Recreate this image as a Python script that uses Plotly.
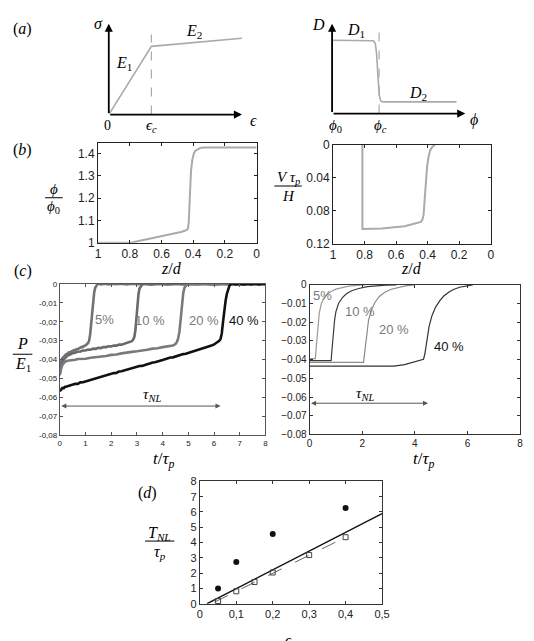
import plotly.graph_objects as go

W, H = 534, 641
SERIF = "Liberation Serif"
SANS = "Liberation Sans"

# ---------------- data ----------------
# (a) schematic constitutive laws (normalised units)
eps_pts = [0.0, 0.32, 1.0]
sig_pts = [0.0, 0.75, 0.84]
eps_c = 0.32
phi_pts = [0.0, 0.29, 0.31, 0.325, 0.335, 0.345, 0.355, 0.365, 0.38, 0.934]
D_pts = [0.815, 0.815, 0.81, 0.78, 0.65, 0.40, 0.20, 0.14, 0.13, 0.13]
phi_c = 0.353

# (b) profiles vs z/d
zb_phi = [1.0, 0.795, 0.477, 0.446, 0.434, 0.428, 0.424, 0.42, 0.414, 0.406, 0.396, 0.385, 0.37, 0.355, 0.33, 0.0]
phi_ratio = [1.0, 1.0, 1.048, 1.055, 1.062, 1.09, 1.16, 1.25, 1.32, 1.37, 1.40, 1.413, 1.421, 1.425, 1.427, 1.427]
zb_vel = [0.814, 0.814, 0.691, 0.546, 0.443, 0.432, 0.426, 0.421, 0.416, 0.411, 0.404, 0.395, 0.385, 0.371, 0.355]
vel = [0.0, 0.1022, 0.1014, 0.0987, 0.0936, 0.090, 0.085, 0.070, 0.054, 0.040, 0.027, 0.015, 0.007, 0.0025, 0.0]

# (c) left: experimental pressure (t/tau_p, P/E1)
C5 = [(0.00,-0.0452),(0.03,-0.0425),(0.06,-0.0407),(0.10,-0.0392),(0.15,-0.0383),(0.20,-0.0376),(0.25,-0.0371),
      (0.30,-0.0369),(0.35,-0.0362),(0.40,-0.0363),(0.45,-0.0356),(0.50,-0.0355),(0.55,-0.0350),(0.60,-0.0351),
      (0.65,-0.0344),(0.70,-0.0345),(0.75,-0.0339),(0.80,-0.0337),(0.85,-0.0333),(0.90,-0.0334),(0.95,-0.0327),
      (1.00,-0.0326),(1.05,-0.0319),(1.10,-0.0312),(1.14,-0.0300),(1.18,-0.0268),(1.22,-0.0210),(1.26,-0.0140),
      (1.30,-0.0080),(1.34,-0.0042),(1.38,-0.0020),(1.42,-0.0009),(1.46,-0.0003),(1.50,0.0),(1.60,-0.0003),
      (1.75,0.0),(1.90,-0.0003),(2.05,0.0),(2.20,-0.0002),(2.40,0.0),(2.60,-0.0003),(2.80,0.0),(3.00,-0.0002),
      (3.30,0.0),(3.60,-0.0003),(3.90,0.0),(4.20,-0.0002),(4.50,0.0),(4.80,-0.0003),(5.10,0.0),(5.40,-0.0002),
      (5.70,0.0),(6.00,-0.0003),(6.30,0.0),(6.60,-0.0002),(6.90,0.0),(7.20,-0.0003),(7.50,0.0),(7.80,-0.0002),(8.00,0.0)]
C10 = [(0.00,-0.0472),(0.03,-0.0450),(0.06,-0.0432),(0.10,-0.0414),(0.15,-0.0400),(0.20,-0.0391),(0.30,-0.0379),
       (0.40,-0.0373),(0.50,-0.0366),(0.60,-0.0364),(0.70,-0.0358),(0.80,-0.0357),(0.90,-0.0352),(1.00,-0.0352),
       (1.10,-0.0347),(1.20,-0.0348),(1.30,-0.0342),(1.40,-0.0343),(1.50,-0.0338),(1.60,-0.0339),(1.70,-0.0334),
       (1.80,-0.0334),(1.90,-0.0330),(2.00,-0.0331),(2.10,-0.0326),(2.20,-0.0326),(2.30,-0.0321),(2.40,-0.0321),
       (2.50,-0.0316),(2.60,-0.0315),(2.70,-0.0309),(2.80,-0.0303),(2.85,-0.0295),(2.90,-0.0280),(2.94,-0.0245),
       (2.98,-0.0180),(3.02,-0.0105),(3.06,-0.0055),(3.10,-0.0025),(3.15,-0.0010),(3.20,-0.0004),(3.30,0.0),
       (3.50,-0.0003),(3.80,0.0),(4.20,-0.0003),(4.60,0.0),(5.00,-0.0002),(5.50,0.0),(6.00,-0.0003),(6.50,0.0),
       (7.00,-0.0002),(7.50,0.0),(8.00,-0.0002)]
C20 = [(0.00,-0.0482),(0.03,-0.0458),(0.06,-0.0442),(0.10,-0.0428),(0.15,-0.0418),(0.20,-0.0411),(0.30,-0.0406),
       (0.40,-0.0405),(0.50,-0.0401),(0.60,-0.0401),(0.70,-0.0397),(0.80,-0.0397),(0.90,-0.0394),(1.00,-0.0395),
       (1.20,-0.0390),(1.40,-0.0388),(1.60,-0.0383),(1.80,-0.0381),(2.00,-0.0375),(2.20,-0.0373),(2.40,-0.0367),
       (2.60,-0.0365),(2.80,-0.0359),(3.00,-0.0356),(3.20,-0.0350),(3.40,-0.0348),(3.60,-0.0342),(3.80,-0.0340),
       (4.00,-0.0334),(4.20,-0.0331),(4.40,-0.0325),(4.50,-0.0318),(4.55,-0.0308),(4.60,-0.0290),(4.65,-0.0255),
       (4.70,-0.0190),(4.75,-0.0110),(4.80,-0.0050),(4.85,-0.0020),(4.90,-0.0008),(4.95,-0.0002),(5.00,0.0),
       (5.30,-0.0003),(5.60,0.0),(5.90,-0.0003),(6.20,0.0),(6.50,-0.0002),(6.80,0.0),(7.10,-0.0003),(7.40,0.0),
       (7.70,-0.0002),(8.00,0.0)]
C40 = [(0.00,-0.0566),(0.05,-0.0556),(0.10,-0.0549),(0.15,-0.0551),(0.20,-0.0544),(0.30,-0.0541),(0.40,-0.0536),
       (0.50,-0.0534),(0.60,-0.0527),(0.70,-0.0528),(0.80,-0.0520),(0.90,-0.0519),(1.00,-0.0515),(1.10,-0.0510),
       (1.20,-0.0509),(1.30,-0.0502),(1.40,-0.0500),(1.50,-0.0496),(1.60,-0.0490),(1.70,-0.0489),(1.80,-0.0482),
       (1.90,-0.0481),(2.00,-0.0475),(2.10,-0.0471),(2.20,-0.0470),(2.30,-0.0463),(2.40,-0.0461),(2.50,-0.0457),
       (2.60,-0.0452),(2.70,-0.0450),(2.80,-0.0446),(2.90,-0.0441),(3.00,-0.0440),(3.10,-0.0434),(3.20,-0.0433),
       (3.30,-0.0427),(3.40,-0.0424),(3.50,-0.0421),(3.60,-0.0415),(3.70,-0.0414),(3.80,-0.0408),(3.90,-0.0406),
       (4.00,-0.0402),(4.10,-0.0397),(4.20,-0.0396),(4.30,-0.0389),(4.40,-0.0388),(4.50,-0.0383),(4.60,-0.0379),
       (4.70,-0.0377),(4.80,-0.0371),(4.90,-0.0369),(5.00,-0.0365),(5.10,-0.0360),(5.20,-0.0358),(5.30,-0.0352),
       (5.40,-0.0350),(5.50,-0.0345),(5.60,-0.0340),(5.70,-0.0337),(5.80,-0.0330),(5.90,-0.0326),(6.00,-0.0320),
       (6.10,-0.0312),(6.20,-0.0301),(6.25,-0.0292),(6.30,-0.0262),(6.35,-0.0200),(6.40,-0.0138),(6.45,-0.0088),
       (6.50,-0.0052),(6.55,-0.0026),(6.60,-0.0010),(6.65,-0.0003),(6.70,0.0),(6.85,-0.0003),(7.00,0.0),
       (7.15,-0.0003),(7.30,0.0),(7.45,-0.0003),(7.60,0.0),(7.75,-0.0003),(7.90,0.0),(8.00,-0.0002)]

# (c) right: simulated pressure
R5 = [(0,-0.0395),(0.22,-0.0395),(0.25,-0.034),(0.29,-0.026),(0.33,-0.019),(0.37,-0.0150),(0.45,-0.0100),
      (0.53,-0.0075),(0.62,-0.0058),(0.8,-0.0037),(1.0,-0.0023),(1.25,-0.0013),(1.49,-0.0007),(1.8,-0.0003),(2.11,0.0)]
R10 = [(0,-0.0405),(0.82,-0.0405),(0.85,-0.035),(0.9,-0.026),(0.95,-0.019),(1.0,-0.0145),(1.1,-0.0100),
       (1.25,-0.0068),(1.4,-0.0048),(1.6,-0.0032),(1.87,-0.0020),(2.2,-0.0010),(2.5,-0.0005),(2.9,-0.0002),(3.3,0.0)]
R20 = [(0,-0.0415),(2.05,-0.0415),(2.08,-0.038),(2.11,-0.0340),(2.16,-0.027),(2.24,-0.0190),(2.35,-0.0135),
       (2.49,-0.0093),(2.65,-0.0062),(2.86,-0.0040),(3.1,-0.0024),(3.36,-0.0014),(3.65,-0.0006),(3.98,0.0)]
R40 = [(0,-0.0435),(3.2,-0.0435),(3.61,-0.0427),(3.98,-0.0414),(4.2,-0.0405),(4.33,-0.0398),(4.38,-0.0370),
       (4.42,-0.0330),(4.48,-0.0275),(4.54,-0.0224),(4.65,-0.0165),(4.79,-0.0119),(4.95,-0.0085),(5.10,-0.0060),
       (5.3,-0.0038),(5.47,-0.0025),(5.7,-0.0013),(5.97,-0.0005),(6.2,0.0)]

tnl_exp = 6.25
tnl_sim = 4.5

# (d) T_NL / tau_p vs eps_c
eps_exp = [0.05, 0.1, 0.2, 0.4]
T_exp = [1.0, 2.72, 4.56, 6.26]
eps_sim = [0.05, 0.1, 0.15, 0.2, 0.3, 0.4]
T_sim = [0.17, 0.81, 1.42, 2.04, 3.18, 4.35]
fit_eps = [0.0197, 0.5]
fit_T = [0.0, 5.9]
sim_fit_eps = [0.04, 0.4]
sim_fit_T = [0.1, 4.35]

# ---------------- helpers ----------------
def px(x):
    return x / W


def py(y):
    return 1 - y / H


fig = go.Figure()
ann = []
shapes = []


def txt(x, y, text, size=15, color="black", family=SERIF, xanchor="center", yanchor="middle"):
    ann.append(dict(xref="paper", yref="paper", x=px(x), y=py(y), text=text, showarrow=False,
                    font=dict(family=family, size=size, color=color), xanchor=xanchor, yanchor=yanchor))


def frac(xc, yn, yl, yd, num, den, half, size=16):
    txt(xc, yn, num, size=size)
    txt(xc, yd, den, size=size)
    shapes.append(dict(type="line", xref="paper", yref="paper", x0=px(xc - half), x1=px(xc + half),
                       y0=py(yl), y1=py(yl), line=dict(color="black", width=1)))


def hidden_axes(n, x0, x1, ytop, ybot):
    return ({"domain": [px(x0), px(x1)], "range": [0, 1], "visible": False, "anchor": f"y{n}"},
            {"domain": [py(ybot), py(ytop)], "range": [0, 1], "visible": False, "anchor": f"x{n}"})


def frame_axes(n, x0, x1, ytop, ybot, xr, yr, xt, xtt, yt, ytt, fs, lc="#222"):
    common = dict(showline=True, mirror="ticks", linecolor=lc, linewidth=1, ticks="inside", ticklen=3,
                  tickcolor=lc, showgrid=False, zeroline=False,
                  tickfont=dict(family=SANS, size=fs, color="#222"))
    xa = dict(domain=[px(x0), px(x1)], range=xr, tickvals=xt, ticktext=xtt, anchor=f"y{n}", **common)
    ya = dict(domain=[py(ybot), py(ytop)], range=yr, tickvals=yt, ticktext=ytt, anchor=f"x{n}", **common)
    return xa, ya


layout_axes = {}

# (a) left
xa, ya = hidden_axes(1, 108, 244, 17, 110)
layout_axes["xaxis"], layout_axes["yaxis"] = xa, ya
fig.add_trace(go.Scatter(x=eps_pts, y=sig_pts, mode="lines", line=dict(color="#aaaaaa", width=1.6),
                         xaxis="x", yaxis="y"))
fig.add_trace(go.Scatter(x=[eps_c, eps_c], y=[0, 0.88], mode="lines",
                         line=dict(color="#aaaaaa", width=1.2, dash="dash"), xaxis="x", yaxis="y"))
for (xx, yy) in [(1.0, 0.0), (0.0, 1.0)]:
    ann.append(dict(xref="x", yref="y", axref="x", ayref="y", x=xx, y=yy, ax=0, ay=0, text="",
                    showarrow=True, arrowhead=2, arrowsize=0.9, arrowwidth=1.8, arrowcolor="black", standoff=0))

# (a) right
xa, ya = hidden_axes(2, 336, 472, 17, 109)
layout_axes["xaxis2"], layout_axes["yaxis2"] = xa, ya
fig.add_trace(go.Scatter(x=phi_pts, y=D_pts, mode="lines", line=dict(color="#aaaaaa", width=1.6),
                         xaxis="x2", yaxis="y2"))
fig.add_trace(go.Scatter(x=[phi_c, phi_c], y=[0, 0.92], mode="lines",
                         line=dict(color="#aaaaaa", width=1.2, dash="dash"), xaxis="x2", yaxis="y2"))
for (xx, yy) in [(1.0, 0.0), (0.0, 1.0)]:
    ann.append(dict(xref="x2", yref="y2", axref="x2", ayref="y2", x=xx, y=yy, ax=0, ay=0, text="",
                    showarrow=True, arrowhead=2, arrowsize=0.9, arrowwidth=1.8, arrowcolor="black", standoff=0))

# (b) left
zt = [1, 0.8, 0.6, 0.4, 0.2, 0]
ztt = ["1", "0.8", "0.6", "0.4", "0.2", "0"]
xa, ya = frame_axes(3, 97, 259, 139, 241, [1, 0], [1, 1.447], zt, ztt,
                    [1, 1.1, 1.2, 1.3, 1.4], ["1", "1.1", "1.2", "1.3", "1.4"], 12)
layout_axes["xaxis3"], layout_axes["yaxis3"] = xa, ya
fig.add_trace(go.Scatter(x=zb_phi, y=phi_ratio, mode="lines", line=dict(color="#aaaaaa", width=2),
                         xaxis="x3", yaxis="y3", cliponaxis=False))

# (b) right
xa, ya = frame_axes(4, 337, 498, 141, 242, [1, 0], [0.12, 0], zt, ztt,
                    [0, 0.04, 0.08, 0.12], ["0", "0.04", "0.08", "0.12"], 12)
layout_axes["xaxis4"], layout_axes["yaxis4"] = xa, ya
fig.add_trace(go.Scatter(x=zb_vel, y=vel, mode="lines", line=dict(color="#aaaaaa", width=2),
                         xaxis="x4", yaxis="y4", cliponaxis=False))

# (c) left
yt = [0, -0.01, -0.02, -0.03, -0.04, -0.05, -0.06, -0.07, -0.08]
ytt_comma = ["0", "-0,01", "-0,02", "-0,03", "-0,04", "-0,05", "-0,06", "-0,07", "-0,08"]
xa, ya = frame_axes(5, 58, 268, 283, 438, [0, 8], [-0.08, 0], list(range(9)), [str(i) for i in range(9)],
                    yt, ytt_comma, 8, lc="#555")
layout_axes["xaxis5"], layout_axes["yaxis5"] = xa, ya
for data, col in [(C5, "#727272"), (C10, "#6a6a6a"), (C20, "#7a7a7a"), (C40, "#111111")]:
    tt, pp = zip(*data)
    fig.add_trace(go.Scatter(x=list(tt), y=list(pp), mode="lines", line=dict(color=col, width=2.6),
                             xaxis="x5", yaxis="y5"))
ann.append(dict(xref="x5", yref="y5", axref="x5", ayref="y5", x=tnl_exp, y=-0.0645, ax=0, ay=-0.0645,
                text="", showarrow=True, arrowhead=2, startarrowhead=2, arrowside="end+start",
                arrowsize=1, arrowwidth=1, arrowcolor="#555", standoff=0, startstandoff=0))

# (c) right
ytt_dot = ["0", "\u22120.01", "\u22120.02", "\u22120.03", "\u22120.04", "\u22120.05", "\u22120.06",
           "\u22120.07", "\u22120.08"]
xa, ya = frame_axes(6, 313, 528, 284, 437, [0, 8], [-0.08, 0], [0, 2, 4, 6, 8], ["0", "2", "4", "6", "8"],
                    yt, ytt_dot, 10, lc="#333")
layout_axes["xaxis6"], layout_axes["yaxis6"] = xa, ya
for data, col in [(R5, "#9a9a9a"), (R10, "#3a3a3a"), (R20, "#8a8a8a"), (R40, "#333333")]:
    tt, pp = zip(*data)
    fig.add_trace(go.Scatter(x=list(tt), y=list(pp), mode="lines", line=dict(color=col, width=1.2),
                             xaxis="x6", yaxis="y6"))
ann.append(dict(xref="x6", yref="y6", axref="x6", ayref="y6", x=tnl_sim, y=-0.0633, ax=0, ay=-0.0633,
                text="", showarrow=True, arrowhead=2, startarrowhead=2, arrowside="end+start",
                arrowsize=1, arrowwidth=1, arrowcolor="#555", standoff=0, startstandoff=0))

# (d)
xa, ya = frame_axes(7, 201, 387, 485, 610, [0, 0.5], [0, 8], [0, 0.1, 0.2, 0.3, 0.4, 0.5],
                    ["0", "0,1", "0,2", "0,3", "0,4", "0,5"], list(range(9)), [str(i) for i in range(9)], 11,
                    lc="#333")
layout_axes["xaxis7"], layout_axes["yaxis7"] = xa, ya
fig.add_trace(go.Scatter(x=fit_eps, y=fit_T, mode="lines", line=dict(color="#111", width=1.4),
                         xaxis="x7", yaxis="y7"))
fig.add_trace(go.Scatter(x=sim_fit_eps, y=sim_fit_T, mode="lines",
                         line=dict(color="#666", width=1, dash="longdash"), xaxis="x7", yaxis="y7"))
fig.add_trace(go.Scatter(x=eps_exp, y=T_exp, mode="markers",
                         marker=dict(symbol="circle", size=6, color="#111"), xaxis="x7", yaxis="y7"))
fig.add_trace(go.Scatter(x=eps_sim, y=T_sim, mode="markers",
                         marker=dict(symbol="square-open", size=5, color="#444", line=dict(width=1)),
                         xaxis="x7", yaxis="y7", cliponaxis=False))

# ---------------- text labels ----------------
txt(20, 22, "(<i>a</i>)", 16)
txt(20, 146, "(<i>b</i>)", 16)
txt(20, 270, "(<i>c</i>)", 16)
txt(148, 497, "(<i>d</i>)", 16)

txt(97, 17, "<i>σ</i>", 16)
txt(195, 25, "<i>E</i><sub>2</sub>", 16)
txt(124, 58, "<i>E</i><sub>1</sub>", 16)
txt(107, 121, "0", 14)
txt(152, 122, "<i>ϵ</i><sub><i>c</i></sub>", 15)
txt(256, 116, "<i>ϵ</i>", 16)

txt(322, 18, "<i>D</i>", 16)
txt(360, 24, "<i>D</i><sub>1</sub>", 16)
txt(424, 88, "<i>D</i><sub>2</sub>", 16)
txt(339, 122, "<i>ϕ</i><sub>0</sub>", 15)
txt(385, 122, "<i>ϕ</i><sub><i>c</i></sub>", 15)
txt(481, 116, "<i>ϕ</i>", 16)

frac(52, 186, 195, 204, "<i>ϕ</i>", "<i>ϕ</i><sub>0</sub>", 9, 15)
txt(172, 267, "<i>z</i>/<i>d</i>", 16)
frac(291, 175, 183, 193, "<i>V τ</i><sub><i>p</i></sub>", "<i>H</i>", 14, 15)
txt(417, 267, "<i>z</i>/<i>d</i>", 16)

frac(20, 344, 355, 365, "<i>P</i>", "<i>E</i><sub>1</sub>", 10, 16)
txt(164, 463, "<i>t</i>/<i>τ</i><sub><i>p</i></sub>", 17)
txt(430, 463, "<i>t</i>/<i>τ</i><sub><i>p</i></sub>", 17)

txt(152, 397, "<i>τ</i><sub><i>NL</i></sub>", 15)
txt(370, 396, "<i>τ</i><sub><i>NL</i></sub>", 15)

txt(104, 319, "5%", 13, "#7a7a7a", SANS)
txt(150, 320, "10 %", 13, "#7a7a7a", SANS)
txt(205, 321, "20 %", 13, "#7a7a7a", SANS)
txt(246, 320, "40 %", 13, "#111", SANS)

txt(326, 295, "5%", 13, "#7a7a7a", SANS)
txt(365, 311, "10 %", 13, "#7a7a7a", SANS)
txt(399, 330, "20 %", 13, "#7a7a7a", SANS)
txt(455, 347, "40 %", 13, "#111", SANS)

frac(160, 538, 546, 558, "<i>T</i><sub><i>NL</i></sub>", "<i>τ</i><sub><i>p</i></sub>", 15, 16)
txt(294, 637, "<i>ϵ</i><sub><i>c</i></sub>", 15, yanchor="top")

fig.update_layout(
    width=W, height=H, margin=dict(l=0, r=0, t=0, b=0, pad=0),
    paper_bgcolor="white", plot_bgcolor="white", showlegend=False,
    annotations=ann, shapes=shapes, **layout_axes,
)

fig.write_html("out.html")
